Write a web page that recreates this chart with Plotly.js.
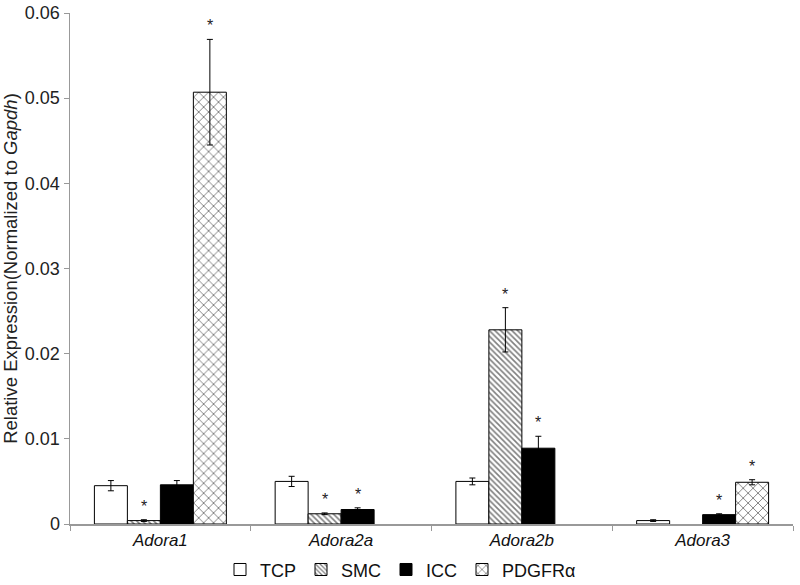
<!DOCTYPE html>
<html><head><meta charset="utf-8">
<script src="https://cdn.plot.ly/plotly-3.0.1.min.js"></script>
<style>body{margin:0;background:#fff}#chart{width:800px;height:585px}</style>
</head><body><div id="chart"></div>
<script>
const categories = ["Adora1", "Adora2a", "Adora2b", "Adora3"];
const seriesNames = ["TCP", "SMC", "ICC", "PDGFRα"];
const tcp = [0.0045, 0.0050, 0.0050, 0.0004];
const tcpErr = [0.0006, 0.0006, 0.0004, 0.0001];
const smc = [0.0004, 0.0012, 0.0228, null];
const smcErr = [0.0001, 0.0001, 0.0026, null];
const icc = [0.0046, 0.0017, 0.0089, 0.0011];
const iccErr = [0.0005, 0.0002, 0.0014, 0.0001];
const pdgfra = [0.0507, null, null, 0.0049];
const pdgfraErr = [0.0062, null, null, 0.0003];
// significance markers (1 = asterisk)
const tcpSig = [0, 0, 0, 0];
const smcSig = [1, 1, 1, 0];
const iccSig = [0, 1, 1, 1];
const pdgfraSig = [1, 0, 0, 1];

const values = [tcp, smc, icc, pdgfra];
const errs = [tcpErr, smcErr, iccErr, pdgfraErr];
const sigs = [tcpSig, smcSig, iccSig, pdgfraSig];
const styles = [
  {color: "#ffffff", pattern: {shape: ""}},
  {color: "#ffffff", pattern: {shape: "\\", fgcolor: "#000", bgcolor: "#fff", size: 4, solidity: 0.4, fillmode: "overlay"}},
  {color: "#000000", pattern: {shape: ""}},
  {color: "#ffffff", pattern: {shape: "x", fgcolor: "#000", bgcolor: "#fff", size: 7, solidity: 0.25, fillmode: "overlay"}}
];
const bargap = 0.27;
const traces = values.map((v, j) => ({
  type: "bar", name: seriesNames[j], x: categories, y: v,
  marker: {color: styles[j].color, pattern: styles[j].pattern, line: {color: "#000", width: 1}},
  error_y: {type: "data", array: errs[j], visible: true, color: "#000", thickness: 1, width: 3}
}));
const w = (1 - bargap) / 4;
const annotations = [];
sigs.forEach((s, j) => s.forEach((flag, i) => {
  if (flag) annotations.push({
    xref: "x", yref: "y", x: i + (j - 1.5) * w, y: values[j][i] + errs[j][i],
    text: "*", showarrow: false, yanchor: "bottom", yshift: 3,
    font: {family: "Liberation Sans, Arial, sans-serif", size: 16, color: "#222"}
  });
}));
const layout = {
  width: 800, height: 585,
  margin: {l: 70, r: 7, t: 13, b: 61},
  paper_bgcolor: "#fff", plot_bgcolor: "#fff",
  font: {family: "Liberation Sans, Arial, sans-serif", color: "#222"},
  barmode: "group", bargap: bargap, bargroupgap: 0,
  showlegend: true,
  legend: {orientation: "h", xref: "container", yref: "container", x: 0.275, xanchor: "left",
    y: 0.026, yanchor: "middle",
    font: {size: 18, color: "#111"}, itemwidth: 30, tracegroupgap: 0},
  xaxis: {
    type: "category", tickson: "boundaries", ticks: "outside", ticklen: 5, tickcolor: "#999",
    showline: true, linecolor: "#999", linewidth: 1.5,
    tickvals: categories, ticktext: categories.map(c => "<i>" + c + "</i>"),
    tickfont: {size: 17, color: "#111"}, showgrid: false, automargin: false
  },
  yaxis: {
    range: [0, 0.06], dtick: 0.01, tickformat: "~g", ticks: "outside", ticklen: 5, tickcolor: "#999",
    showline: true, linecolor: "#999", linewidth: 1.5, showgrid: false, zeroline: false,
    tickfont: {size: 18, color: "#222"}, automargin: false,
    title: {text: "Relative Expression(Normalized to <i>Gapdh</i>)", font: {size: 18.5, color: "#222"}, standoff: 4}
  },
  annotations: annotations
};
Plotly.newPlot("chart", traces, layout, {displayModeBar: false, staticPlot: true});
</script></body></html>
